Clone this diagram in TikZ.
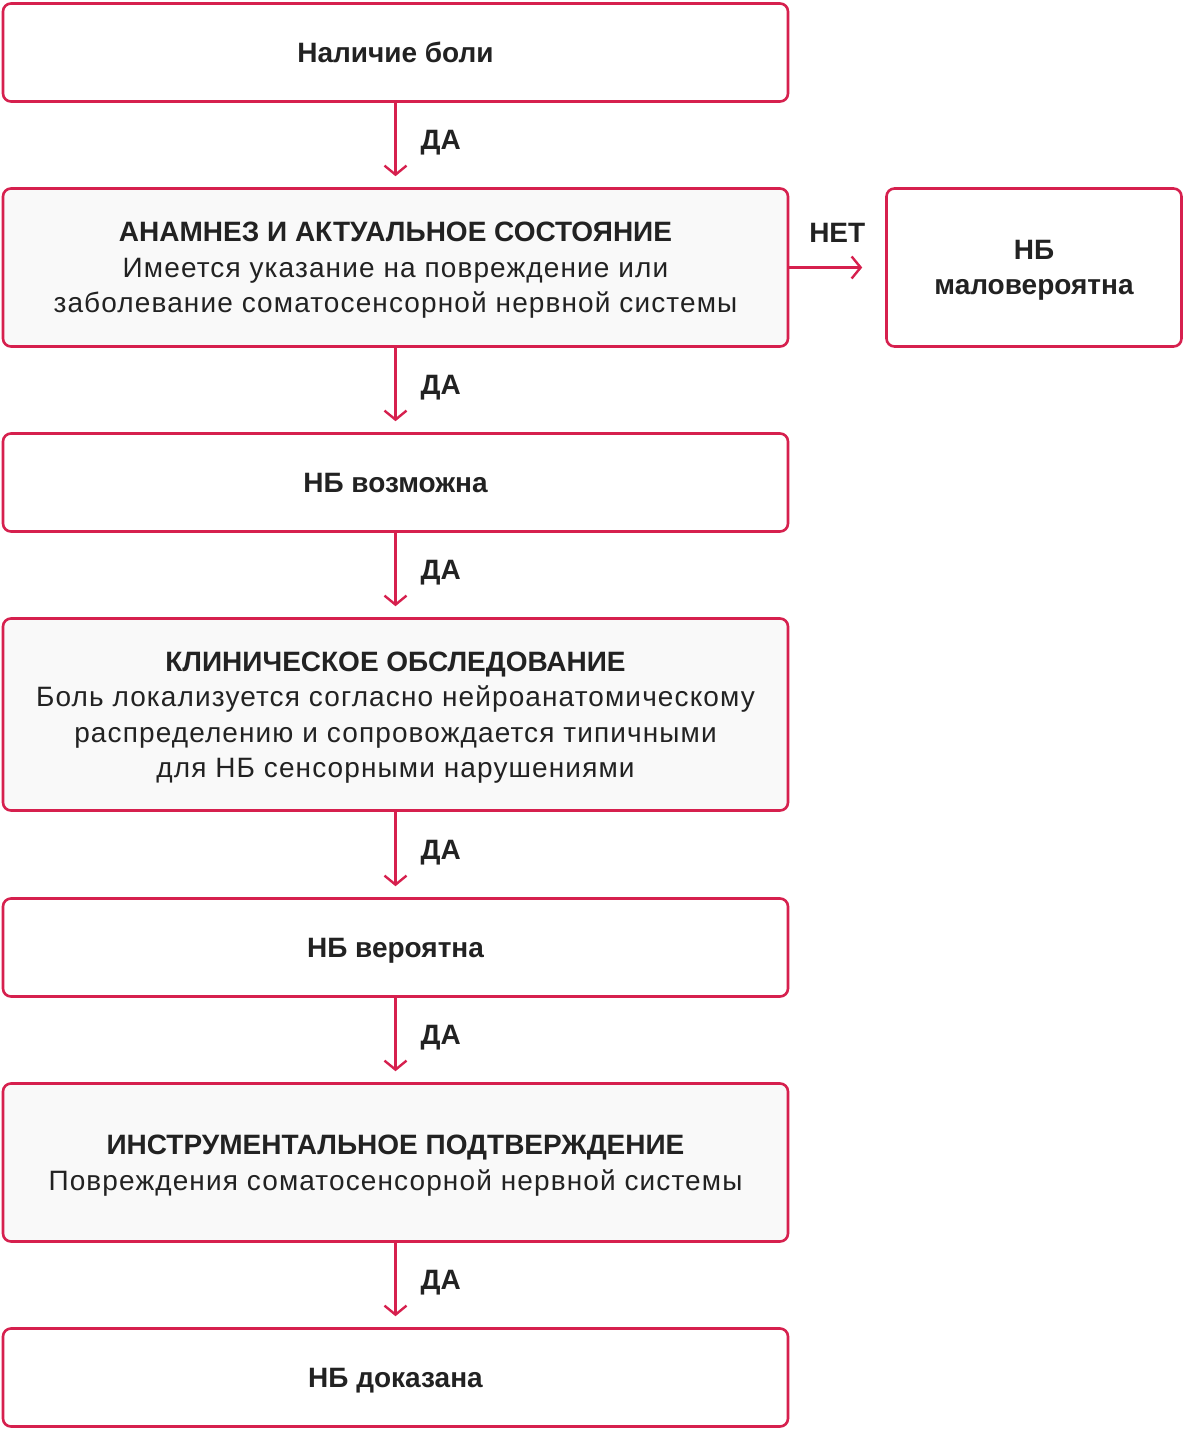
\documentclass[tikz,border=0pt]{standalone}
\usepackage{fontspec}
\setmainfont{Liberation Sans}
\newfontfamily\spacedfont{Liberation Sans}[LetterSpace=4]
\usetikzlibrary{arrows.meta}
\definecolor{crimson}{HTML}{D6204E}
\definecolor{boxgrey}{HTML}{F9F9F9}
\definecolor{inkdark}{HTML}{222222}
\newcommand{\detail}[1]{{\spacedfont\mdseries #1}}

\begin{document}
\begin{tikzpicture}[ x = 1pt, y = -1pt ]
        \tikzset{stage/.style={draw=crimson, line width=2.6pt, rounded corners=8pt,
                   fill=white, minimum width=785pt, inner sep=0pt, align=center,
                   text depth=0pt, text=inkdark, font=\fontsize{28}{35.5}\selectfont\bfseries},
                 probe/.style={stage, fill=boxgrey},
                 flow/.style={draw=crimson, line width=2.4pt,
                   -{Straight Barb[length=9pt, width=22pt, line width=2.4pt]}},
                 answer/.style={inner sep=0pt, text=inkdark,
                   font=\fontsize{28}{30}\selectfont\bfseries}}
        \useasboundingbox (0,0) rectangle (1185,1430);

        \node[stage, minimum height=98pt] (pain) at (395.5,52.5) {Наличие боли};
        \node[probe, minimum height=158pt] (history) at (395.5,267.5)
             {АНАМНЕЗ И АКТУАЛЬНОЕ СОСТОЯНИЕ\\\detail{Имеется указание на повреждение или}\\\detail{заболевание соматосенсорной нервной системы}};
        \node[stage, minimum width=295pt, minimum height=158pt] (unlikely) at (1034,267.5)
             {НБ\\маловероятна};
        \node[stage, minimum height=98pt] (possible) at (395.5,482.5) {НБ возможна};
        \node[probe, minimum height=192pt] (clinic) at (395.5,714.5)
             {КЛИНИЧЕСКОЕ ОБСЛЕДОВАНИЕ\\\detail{Боль локализуется согласно нейроанатомическому}\\\detail{распределению и сопровождается типичными}\\\detail{для НБ сенсорными нарушениями}};
        \node[stage, minimum height=98pt] (probable) at (395.5,947.5) {НБ вероятна};
        \node[probe, minimum height=158pt] (instrument) at (395.5,1162.5)
             {ИНСТРУМЕНТАЛЬНОЕ ПОДТВЕРЖДЕНИЕ\\\detail{Повреждения соматосенсорной нервной системы}};
        \node[stage, minimum height=98pt] (proven) at (395.5,1377.5) {НБ доказана};

        % yes-branches
        \foreach \from/\to in {pain/history, history/possible, possible/clinic,
                               clinic/probable, probable/instrument, instrument/proven}
          \draw[flow, shorten >=11pt] (\from.south) -- node[answer, midway, right=24pt, yshift=2pt] {ДА} (\to.north);

        % no-branch
        \draw[flow, shorten >=23pt] (history.east) -- node[answer, midway, above=24pt] {НЕТ} (unlikely.west);

      \end{tikzpicture}
\end{document}
